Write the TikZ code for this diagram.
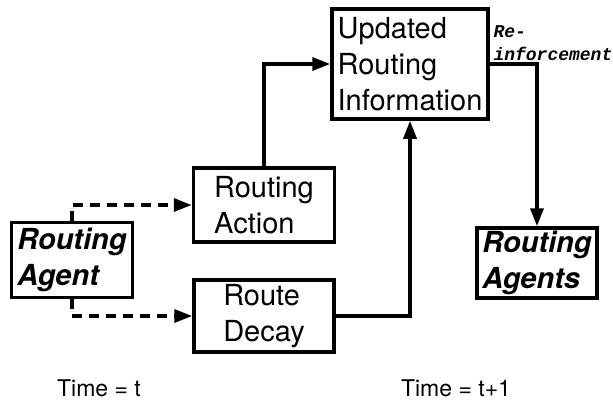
\documentclass[tikz,border=0pt]{standalone}
\usepackage{fontspec}
\setmainfont{TeX Gyre Heros}
\setmonofont{Liberation Mono}
\usetikzlibrary{shapes,arrows.meta,positioning}
\tikzstyle{block} = [rectangle, draw, line width=3.5pt, align=left, inner sep=0pt,
    font=\fontsize{29}{36}\selectfont]
\tikzstyle{agent} = [block, font=\fontsize{29}{36}\selectfont\bfseries\itshape]
\tikzstyle{line} = [draw, line width=3.5pt, -{Triangle[length=18pt,width=13pt]}]
\tikzstyle{dashline} = [line, dash pattern=on 10pt off 7pt]
\tikzstyle{reinf} = [align=left, inner sep=2pt,
    font=\fontsize{18}{23}\selectfont\ttfamily\bfseries\itshape]
\tikzstyle{time} = [font=\fontsize{23}{26}\selectfont]

\begin{document}
\begin{tikzpicture}[x=1pt, y=-1pt, on grid]
    \useasboundingbox (0,0) rectangle (613,400);
    % Place nodes
    \node [agent, minimum width=121pt, minimum height=75pt] (Agent) at (72,260) {Routing\\Agent};
    \node [block, minimum width=141pt, minimum height=74pt,
        above right=55pt and 192pt of Agent] (Action) {Routing\\Action};
    \node [block, minimum width=140pt, minimum height=72pt,
        below right=56pt and 192pt of Agent] (Decay) {Route\\Decay};
    \node [block, minimum width=156pt, minimum height=110pt,
        above right=141pt and 146pt of Action] (Updated) {Updated\\Routing\\Information};
    \node [agent, minimum width=120pt, minimum height=70pt,
        below right=199pt and 127pt of Updated] (Agents) {Routing\\Agents};
    \node [time] (TimeT) at (99,388) {Time = t};
    \node [time] (TimeT1) at (456,388) {Time = t+1};
    % Draw edges
    \path [dashline] (Agent.north) |- (Action.west);
    \path [dashline] (Agent.south) |- (Decay.west);
    \path [line] (Action.north) |- (Updated.west);
    \path [line] (Decay.east) -| (Updated.south);
    \path [line] (Updated.east) -| node [reinf, pos=0, anchor=south west] {Re-\\inforcement} (Agents.north);
\end{tikzpicture}
\end{document}
